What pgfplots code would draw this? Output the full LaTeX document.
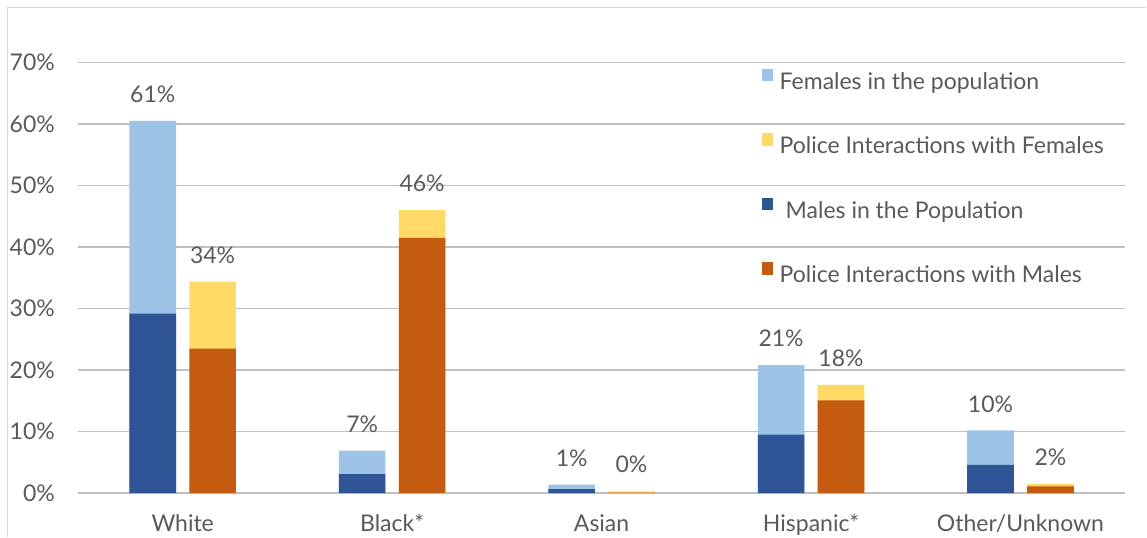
\documentclass[border=0pt]{standalone}
\usepackage{pgfplots}
\pgfplotsset{compat=1.18}
\usepackage{fontspec}
\setmainfont{Lato}
\definecolor{txt}{HTML}{595959}
\definecolor{grid}{HTML}{D9D9D9}
\definecolor{dblue}{HTML}{2F5597}
\definecolor{lblue}{HTML}{9DC3E6}
\definecolor{orng}{HTML}{C55A11}
\definecolor{yell}{HTML}{FFD966}
\begin{document}
\fontsize{23bp}{27bp}\selectfont
\begin{tikzpicture}
\path (0,0) rectangle (1147bp,537bp);
\draw[grid, line width=1.5bp] (7.5bp,0) -- (7.5bp,529.5bp) -- (1147bp,529.5bp);
\begin{axis}[
  at={(78bp,43.5bp)}, anchor=south west,
  scale only axis, width=1048bp, height=431bp,
  xmin=-0.5, xmax=4.5, ymin=0, ymax=70,
  ybar, bar width=0.2227,
  axis line style={draw=none},
  major tick length=0pt,
  xtick style={draw=none}, ytick style={draw=none},
  xmajorgrids=false,
  ymajorgrids, grid style={grid, line width=1.5bp},
  ytick={0,10,20,30,40,50,60,70},
  yticklabels={0\%,10\%,20\%,30\%,40\%,50\%,60\%,70\%},
  xtick={0,1,2,3,4},
  xticklabels={White,Black*,Asian,Hispanic*,Other/Unknown},
  ticklabel style={font=\fontsize{23bp}{27bp}\selectfont, text=txt},
  yticklabel style={anchor=east, inner sep=0pt, xshift=-23bp},
  xticklabel style={anchor=north, inner sep=0pt, yshift=-21bp},
  point meta=explicit symbolic,
  legend cell align=left,
  legend style={at={(0.6527,0.9861)}, anchor=north west, draw=none, fill=none,
    inner sep=0pt, row sep=43.8bp, column sep=7bp,
    font=\fontsize{23bp}{27bp}\selectfont, text=txt,
    nodes={inner sep=0pt, text height=16.5bp, text depth=0pt}},
  legend image code/.code={\fill[#1, draw=none] (0bp,0bp) rectangle (11bp,12.5bp);},
  every node near coord/.append style={font=\fontsize{23bp}{27bp}\selectfont, text=txt, anchor=south, inner sep=0pt, yshift=18bp},
]
\addplot[fill=lblue, draw=none, bar shift=-0.143, nodes near coords={\pgfplotspointmeta\%}]
  coordinates {(0,60.5) [61] (1,6.9) [7] (2,1.4) [1] (3,20.8) [21] (4,10.2) [10]};
\addlegendentry{Females in the population}
\addplot[fill=yell, draw=none, bar shift=0.143, nodes near coords={\pgfplotspointmeta\%}]
  coordinates {(0,34.4) [34] (1,46.0) [46] (2,0.3) [0] (3,17.6) [18] (4,1.5) [2]};
\addlegendentry{Police Interactions with Females}
\addplot[fill=dblue, draw=none, bar shift=-0.143]
  coordinates {(0,29.2) [] (1,3.1) [] (2,0.65) [] (3,9.5) [] (4,4.6) []};
\addlegendentry{\hspace{6bp}Males in the Population}
\addplot[fill=orng, draw=none, bar shift=0.143]
  coordinates {(0,23.5) [] (1,41.5) [] (2,0.1) [] (3,15.1) [] (4,1.1) []};
\addlegendentry{Police Interactions with Males}
\end{axis}
\end{tikzpicture}
\end{document}
